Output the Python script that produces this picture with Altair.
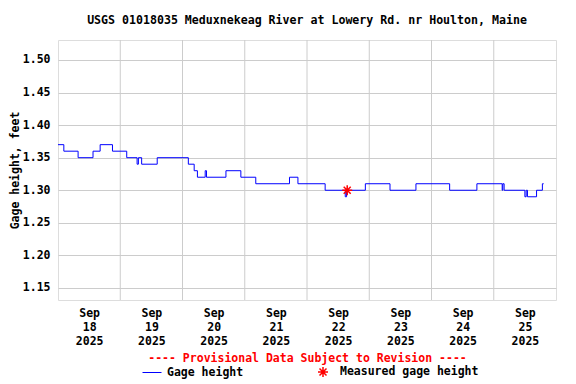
import altair as alt
import pandas as pd

FONT = "DejaVu Sans Mono"

# Hours since 2025-09-18 00:00 (step changes) and gage height, feet
hours = [0, 2.25, 7.75, 13.5, 16.25, 21, 26.5, 30.5, 31, 32.25, 38.25,
         50.25, 52.5, 53.75, 56.75, 57.25, 64.75, 70.5, 76.25, 89.25, 92.5,
         103, 110.75, 111.25, 118.5, 128, 138, 151, 161.5, 171.25, 171.5,
         172, 180, 180.5, 181, 184.5, 186.75, 187.25]
heights = [1.37, 1.36, 1.35, 1.36, 1.37, 1.36, 1.35, 1.34, 1.35, 1.34, 1.35,
           1.34, 1.33, 1.32, 1.33, 1.32, 1.33, 1.32, 1.31, 1.32, 1.31,
           1.30, 1.29, 1.30, 1.31, 1.30, 1.31, 1.30, 1.31, 1.30, 1.31,
           1.30, 1.29, 1.30, 1.29, 1.30, 1.31, 1.31]

meas_hours = [111.5]
meas_heights = [1.30]

day_bounds = [24, 48, 72, 96, 120, 144, 168]
label_hours = [12, 36, 60, 84, 108, 132, 156, 180]
y_ticks = [1.15, 1.20, 1.25, 1.30, 1.35, 1.40, 1.45, 1.50]

ASTERISK = "M-1,0L1,0M0,-1L0,1M-0.7,-0.7L0.7,0.7M-0.7,0.7L0.7,-0.7"

df = pd.DataFrame({"hours": hours, "height": heights, "series": "Gage height"})
dm = pd.DataFrame({"hours": meas_hours, "height": meas_heights,
                   "series": "Measured gage height"})
dg = pd.DataFrame({"hours": day_bounds})

xscale = alt.Scale(domain=[0, 192], nice=False, zero=False)
yscale = alt.Scale(domain=[1.1315, 1.5307], nice=False, zero=False)

grid = alt.Chart(dg).mark_rule(color="#cccccc", strokeWidth=1).encode(
    x=alt.X("hours:Q", scale=xscale)
)

line = alt.Chart(df).mark_line(interpolate="step-after", strokeWidth=1).encode(
    x=alt.X("hours:Q", scale=xscale,
            axis=alt.Axis(values=label_hours, tickCount=20,
                          labelExpr="['Sep', toString(18 + floor(datum.value/24)), '2025']",
                          grid=False, ticks=False, domain=False,
                          labelFont=FONT, labelFontSize=11.5, labelFontWeight="bold",
                          labelColor="black", labelPadding=7, labelLineHeight=14,
                          title="---- Provisional Data Subject to Revision ----",
                          titleColor="red", titleFont=FONT, titleFontSize=11.5,
                          titleFontWeight="bold", titlePadding=6)),
    y=alt.Y("height:Q", scale=yscale,
            axis=alt.Axis(values=y_ticks, tickCount=20, format=".2f", grid=True,
                          gridColor="#cccccc",
                          ticks=False, domain=False, labelOverlap=False,
                          labelFont=FONT, labelFontSize=11.5, labelFontWeight="bold",
                          labelColor="black", labelPadding=8,
                          title="Gage height, feet", titleFont=FONT, titleFontSize=11.5,
                          titleFontWeight="bold", titleColor="black", titlePadding=2)),
    color=alt.Color("series:N",
                    scale=alt.Scale(domain=["Gage height"], range=["#0000ff"]),
                    legend=alt.Legend(orient="none", legendX=84, legendY=322.5, title=None,
                                      symbolType="stroke", symbolSize=361,
                                      symbolStrokeWidth=1, labelOffset=5, padding=0,
                                      labelFont=FONT, labelFontSize=11.5,
                                      labelFontWeight="bold", labelColor="black"))
)

points = alt.Chart(dm).mark_point(filled=False, color="red", size=100,
                                  strokeWidth=1.5, opacity=1).encode(
    x=alt.X("hours:Q", scale=xscale),
    y=alt.Y("height:Q", scale=yscale),
    shape=alt.Shape("series:N",
                    scale=alt.Scale(domain=["Measured gage height"], range=[ASTERISK]),
                    legend=alt.Legend(orient="none", legendX=259, legendY=326, title=None,
                                      symbolSize=100, symbolStrokeColor="red",
                                      symbolFillColor="transparent", symbolStrokeWidth=1.5,
                                      labelOffset=11, padding=0,
                                      labelFont=FONT, labelFontSize=11.5,
                                      labelFontWeight="bold", labelColor="black"))
)

chart = alt.layer(grid, line, points).properties(
    width=498, height=260,
    title=alt.Title("USGS 01018035 Meduxnekeag River at Lowery Rd. nr Houlton, Maine",
                    font=FONT, fontSize=11.6, fontWeight="bold", color="black",
                    anchor="middle", offset=13),
    autosize=alt.AutoSizeParams(type="none"),
    padding={"left": 50, "top": 32, "right": 12, "bottom": 80},
).configure_view(stroke="black", strokeWidth=1).configure(background="white")

chart.save("out.html", embed_options={"renderer": "svg", "actions": False})
